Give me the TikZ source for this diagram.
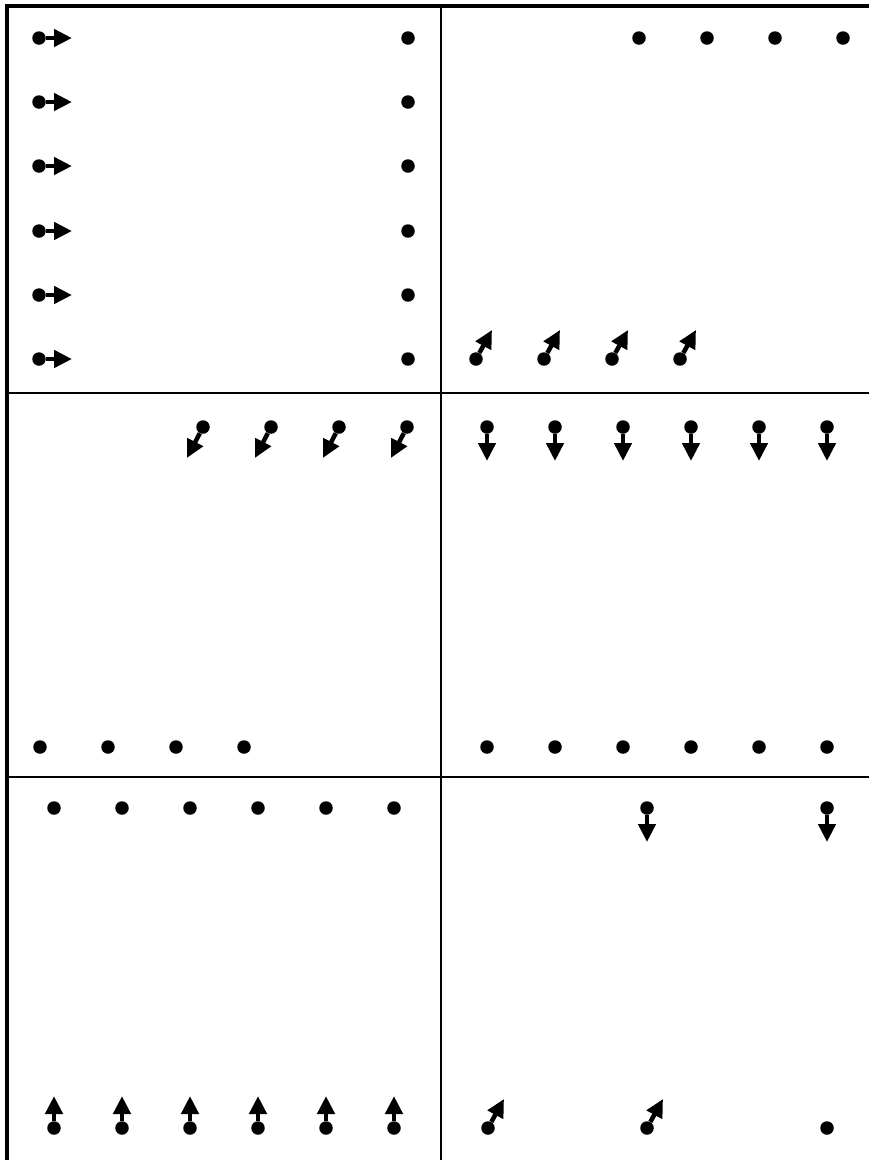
\documentclass[tikz,border=0pt]{standalone}
\usetikzlibrary{arrows.meta}
\tikzset{
  dot/.style={circle,fill=black,inner sep=0pt,minimum size=13.5pt},
  vec/.style={line width=4.5pt,-{Triangle[length=18pt,width=17pt]}},
  frameline/.style={line width=4pt},
  divline/.style={line width=2pt}
}
\begin{document}
\begin{tikzpicture}[x=1pt,y=-1pt]
\useasboundingbox (0,0) rectangle (869,1160);
% frame and dividers
\draw[frameline] (7,1160) -- (7,5.5) -- (869,5.5);
\draw[divline] (441,5.5) -- (441,1160);
\draw[divline] (7,393) -- (869,393);
\draw[divline] (7,777) -- (869,777);
% top-left panel
\foreach \y [count=\i] in {38,102,166,231,295,359}{
  \node[dot] (tll\i) at (39,\y) {};
  \coordinate (tll\i t) at (72,\y);
  \draw[vec] (tll\i) -- (tll\i t);
  \node[dot] (tlr\i) at (408,\y) {};
}
% top-right panel
\foreach \x [count=\i] in {639,707,775,843}{
  \node[dot] (trt\i) at (\x,38) {};
}
\foreach \x [count=\i] in {476,544,612,680}{
  \node[dot] (trb\i) at (\x,359) {};
  \coordinate (trb\i t) at (\x+16,330);
  \draw[vec] (trb\i) -- (trb\i t);
}
% middle-left panel
\foreach \x [count=\i] in {203,271,339,407}{
  \node[dot] (mlt\i) at (\x,427) {};
  \coordinate (mlt\i t) at (\x-16,458);
  \draw[vec] (mlt\i) -- (mlt\i t);
}
\foreach \x [count=\i] in {40,108,176,244}{
  \node[dot] (mlb\i) at (\x,747) {};
}
% middle-right panel
\foreach \x [count=\i] in {487,555,623,691,759,827}{
  \node[dot] (mrt\i) at (\x,427) {};
  \coordinate (mrt\i t) at (\x,461);
  \draw[vec] (mrt\i) -- (mrt\i t);
  \node[dot] (mrb\i) at (\x,747) {};
}
% bottom-left panel
\foreach \x [count=\i] in {54,122,190,258,326,394}{
  \node[dot] (blt\i) at (\x,808) {};
  \node[dot] (blb\i) at (\x,1128) {};
  \coordinate (blb\i t) at (\x,1096);
  \draw[vec] (blb\i) -- (blb\i t);
}
% bottom-right panel
\foreach \x [count=\i] in {647,827}{
  \node[dot] (brt\i) at (\x,808) {};
  \coordinate (brt\i t) at (\x,842);
  \draw[vec] (brt\i) -- (brt\i t);
}
\foreach \x [count=\i] in {488,647}{
  \node[dot] (brb\i) at (\x,1128) {};
  \coordinate (brb\i t) at (\x+16,1099);
  \draw[vec] (brb\i) -- (brb\i t);
}
\node[dot] (brb3) at (827,1128) {};
\end{tikzpicture}
\end{document}
